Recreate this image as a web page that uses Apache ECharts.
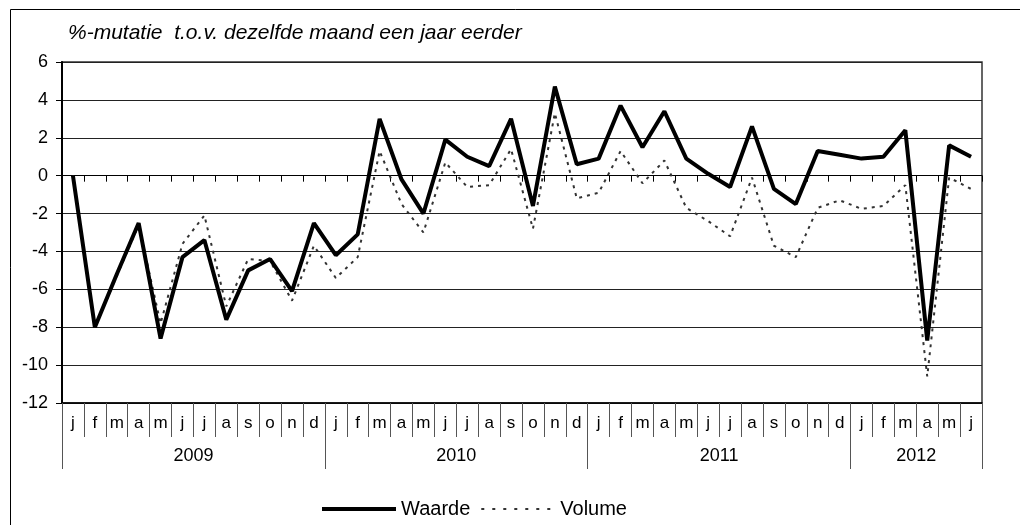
<!DOCTYPE html>
<html>
<head>
<meta charset="utf-8">
<script src="https://cdn.jsdelivr.net/npm/echarts@6/dist/echarts.min.js"></script>
<style>
html,body{margin:0;padding:0;background:#fff;}
#chart{width:1020px;height:525px;}
</style>
</head>
<body>
<div id="chart"></div>
<script>
var titleText = '%-mutatie  t.o.v. dezelfde maand een jaar eerder';
var monthLetters = ['j','f','m','a','m','j','j','a','s','o','n','d',
  'j','f','m','a','m','j','j','a','s','o','n','d',
  'j','f','m','a','m','j','j','a','s','o','n','d',
  'j','f','m','a','m','j'];
var years = ['2009','2010','2011','2012'];
var yearMonthCounts = [12,12,12,6];
var waarde = [0.0, -8.0, -5.2, -2.5, -8.6, -4.3, -3.4, -7.6, -5.0, -4.4, -6.1, -2.5,
  -4.2, -3.1, 3.0, -0.2, -2.0, 1.9, 1.0, 0.5, 3.0, -1.6, 4.7, 0.6,
  0.9, 3.7, 1.5, 3.4, 0.9, 0.1, -0.6, 2.6, -0.7, -1.5, 1.3, 1.1,
  0.9, 1.0, 2.4, -8.7, 1.6, 1.0];
var volume = [0.0, -8.0, -5.3, -2.6, -7.8, -3.6, -2.1, -6.9, -4.4, -4.5, -6.6, -3.7,
  -5.4, -4.3, 1.3, -1.5, -3.0, 0.7, -0.6, -0.5, 1.4, -2.8, 3.3, -1.2,
  -0.9, 1.3, -0.4, 0.8, -1.7, -2.4, -3.2, -0.1, -3.7, -4.3, -1.7, -1.3,
  -1.75, -1.6, -0.5, -10.6, -0.1, -0.7];
var yTicks = {min: -12, max: 6, interval: 2};

var monthIds = [];
var yearCenters = {};
var yearStarts = {};
(function(){
  var acc = 0;
  for (var yi = 0; yi < years.length; yi++) {
    yearStarts[acc] = true;
    yearCenters[acc + yearMonthCounts[yi] / 2] = years[yi];
    for (var m = 0; m < yearMonthCounts[yi]; m++) {
      monthIds.push(years[yi] + '-' + (m + 1));
    }
    acc += yearMonthCounts[yi];
  }
})();

var FONT = '"Liberation Sans", Arial, sans-serif';
var chart = echarts.init(document.getElementById('chart'), null, {renderer: 'canvas'});
chart.setOption({
  animation: false,
  backgroundColor: '#fff',
  title: {
    text: titleText,
    left: 63, top: 18,
    textStyle: {fontFamily: FONT, fontSize: 21, fontStyle: 'italic', fontWeight: 'normal', color: '#000'}
  },
  legend: {
    left: 315, top: 494,
    itemWidth: 74, itemHeight: 14, itemGap: 10,
    itemStyle: {color: 'transparent', borderWidth: 0, opacity: 0},
    textStyle: {fontFamily: FONT, fontSize: 20, color: '#000'},
    data: [
      {name: 'Waarde', lineStyle: {width: 4, color: '#000', type: 'solid'}},
      {name: 'Volume', lineStyle: {width: 2, color: '#333', type: [3, 8]}}
    ]
  },
  grid: {
    left: 62, right: 38, top: 62, bottom: 122,
    show: true, borderColor: '#333', borderWidth: 1.5, backgroundColor: '#fff'
  },
  xAxis: [
    {
      type: 'category', data: monthIds, position: 'bottom', boundaryGap: true,
      axisLine: {onZero: true, lineStyle: {color: '#000', width: 1}},
      axisTick: {show: true, interval: 0, length: 6, lineStyle: {color: '#000'}},
      axisLabel: {show: false}
    },
    {
      type: 'category', data: monthIds, position: 'bottom', boundaryGap: true,
      axisLine: {onZero: false, show: true, lineStyle: {color: '#000', width: 1.5}},
      axisTick: {show: true, interval: 0, length: 34, lineStyle: {color: '#555'}},
      axisLabel: {interval: 0, margin: 12, fontFamily: FONT, fontSize: 17, color: '#000',
        formatter: function(v, i){ return monthLetters[i]; }}
    },
    {
      type: 'category', data: monthIds, position: 'bottom', boundaryGap: true,
      axisLine: {onZero: false, show: false},
      axisTick: {show: true, length: 66, lineStyle: {color: '#555'},
        interval: function(i){ return !!yearStarts[i]; }},
      axisLabel: {show: false}
    },
    {
      type: 'value', position: 'bottom', min: 0, max: monthIds.length, interval: 3,
      axisLine: {onZero: false, show: false},
      axisTick: {show: false},
      splitLine: {show: false},
      axisLabel: {margin: 44, fontFamily: FONT, fontSize: 18, color: '#000',
        formatter: function(v){ return yearCenters[v] || ''; }}
    }
  ],
  yAxis: {
    type: 'value', min: yTicks.min, max: yTicks.max, interval: yTicks.interval,
    axisLine: {show: true, lineStyle: {color: '#000', width: 2}},
    axisTick: {show: true, length: 6, lineStyle: {color: '#000'}},
    splitLine: {show: true, lineStyle: {color: '#222', width: 1}},
    axisLabel: {margin: 14, fontFamily: FONT, fontSize: 18, color: '#000'}
  },
  graphic: [{
    type: 'rect', silent: true, z: -10,
    shape: {x: 10.5, y: 9.5, width: 1100, height: 600},
    style: {fill: 'none', stroke: '#000', lineWidth: 1}
  }],
  series: [
    {
      name: 'Waarde', type: 'line', xAxisIndex: 0, data: waarde,
      symbol: 'none', z: 4,
      lineStyle: {color: '#000', width: 4, type: 'solid'},
      itemStyle: {color: '#000'}
    },
    {
      name: 'Volume', type: 'line', xAxisIndex: 0, data: volume,
      symbol: 'none', z: 3,
      lineStyle: {color: '#333', width: 2, type: [3, 5]},
      itemStyle: {color: '#333'}
    }
  ]
});
</script>
</body>
</html>
